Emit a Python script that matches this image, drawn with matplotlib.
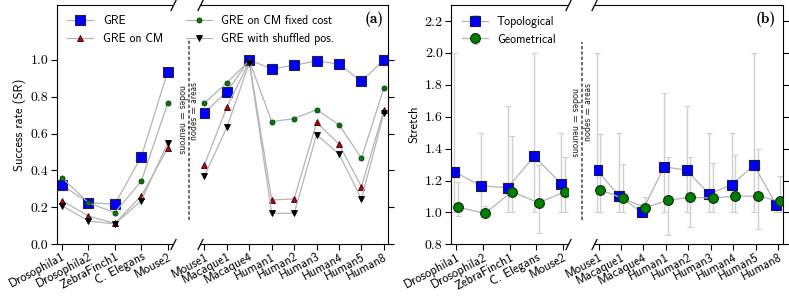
import matplotlib
matplotlib.use('Agg')
import matplotlib.pyplot as plt
from matplotlib.lines import Line2D
import numpy as np

plt.rcParams['font.family'] = 'cmss10'
plt.rcParams['axes.formatter.use_mathtext'] = True
plt.rcParams['axes.unicode_minus'] = False

# --- data ---
neuron_labels = ['Drosophila1', 'Drosophila2', 'ZebraFinch1', 'C. Elegans', 'Mouse2']
area_labels = ['Mouse1', 'Macaque1', 'Macaque4', 'Human1', 'Human2',
               'Human3', 'Human4', 'Human5', 'Human8']

# (a) success rate, neurons part then areas part
gre = [0.32, 0.224, 0.217, 0.474, 0.937,
       0.714, 0.828, 1.0, 0.951, 0.971, 0.995, 0.977, 0.884, 1.0]
gre_cm = [0.235, 0.152, 0.112, 0.261, 0.52,
          0.431, 0.745, 0.99, 0.239, 0.245, 0.66, 0.543, 0.311, 0.728]
gre_fixed = [0.36, 0.224, 0.17, 0.342, 0.765,
             0.765, 0.877, 0.995, 0.665, 0.681, 0.73, 0.648, 0.466, 0.846]
gre_shuffled = [0.208, 0.125, 0.109, 0.235, 0.55,
                0.37, 0.634, 0.985, 0.167, 0.167, 0.594, 0.488, 0.245, 0.71]

# (b) stretch with min / max range
topo = [1.255, 1.167, 1.155, 1.352, 1.18,
        1.265, 1.104, 1.0, 1.286, 1.265, 1.115, 1.173, 1.295, 1.046]
topo_lo = [1.0, 1.0, 1.0, 1.0, 1.0,
           1.0, 1.0, 1.0, 1.0, 1.0, 1.0, 1.0, 1.0, 1.0]
topo_hi = [2.0, 1.5, 1.667, 2.0, 1.5,
           2.0, 1.5, 1.0, 1.75, 1.667, 1.5, 1.5, 2.0, 1.05]
geo = [1.032, 0.994, 1.13, 1.06, 1.13,
       1.142, 1.088, 1.029, 1.077, 1.094, 1.09, 1.102, 1.102, 1.071]
geo_lo = [0.979, 0.975, 1.0, 0.873, 1.0,
          1.0, 1.0, 1.0, 0.858, 0.906, 1.0, 1.0, 0.896, 1.0]
geo_hi = [1.192, 1.042, 1.48, 1.3, 1.349,
          1.49, 1.303, 1.094, 1.349, 1.349, 1.311, 1.359, 1.395, 1.228]

n1 = len(neuron_labels)
LINE = '#b4b4b4'
ERR = '#cfcfcf'

fig = plt.figure(figsize=(7.89, 2.97), dpi=100)
H = 0.8057
axa1 = fig.add_axes([0.0719, 0.1785, 0.1474, H])
axa2 = fig.add_axes([0.2535, 0.1785, 0.2387, H])
axb1 = fig.add_axes([0.5716, 0.1774, 0.1489, H])
axb2 = fig.add_axes([0.7529, 0.1774, 0.2392, H])


def style_pair(axl, axr, ylim, yticks):
    for ax in (axl, axr):
        ax.set_ylim(*ylim)
        ax.set_yticks(yticks)
        for s in ax.spines.values():
            s.set_linewidth(0.8)
        ax.tick_params(direction='out', length=4, width=0.8, pad=2)
        ax.tick_params(axis='x', labelsize=9, rotation=28, pad=1)
        ax.tick_params(axis='y', labelsize=10, labelfontfamily='cmr10')
    axl.spines['right'].set_visible(False)
    axr.spines['left'].set_visible(False)
    axr.yaxis.tick_right()
    axr.tick_params(axis='y', labelright=False)
    axl.set_xlim(-0.2, 4.2)
    axr.set_xlim(-0.2, 8.2)
    axl.set_xticks(range(n1))
    axl.set_xticklabels(neuron_labels, ha='right', rotation_mode='anchor')
    axr.set_xticks(range(len(area_labels)))
    axr.set_xticklabels(area_labels, ha='right', rotation_mode='anchor')
    axl.set_yticklabels([f'{v:.1f}' for v in yticks])
    # broken axis marks
    kw = dict(marker=[(-1, -2), (1, 2)], markersize=8, linestyle='none',
              color='k', mec='k', mew=0.9, clip_on=False)
    axl.plot([1, 1], [0, 1], transform=axl.transAxes, **kw)
    axr.plot([0, 0], [0, 1], transform=axr.transAxes, **kw)


def divider(x, y0, y1, xn, yn, xa, ya):
    fig.add_artist(Line2D([x, x], [y0, y1], transform=fig.transFigure,
                          color='#555555', lw=1.2, ls=(0, (2, 1.2))))
    fig.text(xn, yn, 'nodes = neurons', rotation=270, ha='center', va='center',
             fontsize=7, color='#222222')
    fig.text(xa, ya, 'nodes = areas', rotation=90, ha='center', va='center',
             fontsize=7, color='#222222')


# --- panel (a) ---
series_a = [
    (gre, dict(marker='s', ms=7.5, mfc='#0000ff', mec='#222244', mew=0.8), 'GRE'),
    (gre_cm, dict(marker='^', ms=4, mfc='#c00000', mec='#300000', mew=0.6), 'GRE on CM'),
    (gre_fixed, dict(marker='o', ms=3.6, mfc='#008000', mec='#103010', mew=0.6), 'GRE on CM fixed cost'),
    (gre_shuffled, dict(marker='v', ms=4, mfc='#000000', mec='#000000', mew=0.6), 'GRE with shuffled pos.'),
]
handles_a = []
for vals, mk, lab in series_a:
    axa1.plot(range(n1), vals[:n1], color=LINE, lw=0.9, **mk)
    h, = axa2.plot(range(len(area_labels)), vals[n1:], color=LINE, lw=0.9, **mk)
    handles_a.append(h)

style_pair(axa1, axa2, (0, 1.3), np.arange(0, 1.01, 0.2))
axa1.set_ylabel('Success rate (SR)', fontsize=9, labelpad=3)
axa1.legend([handles_a[0], handles_a[1]], ['GRE', 'GRE on CM'], loc='upper left',
            frameon=False, fontsize=8.5, handlelength=2.2, numpoints=1)
axa2.legend([handles_a[2], handles_a[3]], ['GRE on CM fixed cost', 'GRE with shuffled pos.'],
            loc='upper left', bbox_to_anchor=(-0.133, 1), frameon=False, fontsize=8.5,
            handlelength=2.2, numpoints=1)
axa2.text(0.973, 0.972, '(a)', transform=axa2.transAxes, ha='right', va='top',
          fontfamily='cmb10', fontsize=11)
divider(0.2400, 0.259, 0.865, 0.2303, 0.599, 0.2463, 0.626)

# --- panel (b) ---
off = 0.08
ebar_kw = dict(ecolor=ERR, elinewidth=1, capsize=2, capthick=1, color=LINE, lw=0.9)
sq = dict(marker='s', ms=7, mfc='#0000ff', mec='#1a1a3a', mew=0.8)
ci = dict(marker='o', ms=7, mfc='#008000', mec='#0a2a0a', mew=0.8)
for ax, sl, n in ((axb1, slice(0, n1), n1), (axb2, slice(n1, None), len(area_labels))):
    x = np.arange(n)
    t = np.array(topo[sl]); g = np.array(geo[sl])
    et = [t - np.array(topo_lo[sl]), np.array(topo_hi[sl]) - t]
    eg = [g - np.array(geo_lo[sl]), np.array(geo_hi[sl]) - g]
    ht = ax.errorbar(x - off, t, yerr=et, **ebar_kw, **sq)
    hg = ax.errorbar(x + off, g, yerr=eg, **ebar_kw, **ci)
    if ax is axb1:
        handles_b = [ht, hg]

style_pair(axb1, axb2, (0.8, 2.3), np.arange(0.8, 2.21, 0.2))
axb1.set_ylabel('Stretch', fontsize=9, labelpad=3)
axb1.legend(handles_b, ['Topological', 'Geometrical'], loc='upper left',
            frameon=False, fontsize=8.5, handlelength=2.2, numpoints=1)
axb2.text(0.965, 0.972, '(b)', transform=axb2.transAxes, ha='right', va='top',
          fontfamily='cmb10', fontsize=11)
divider(0.7373, 0.259, 0.860, 0.7288, 0.588, 0.7452, 0.624)

fig.savefig('out.png', dpi=100)
